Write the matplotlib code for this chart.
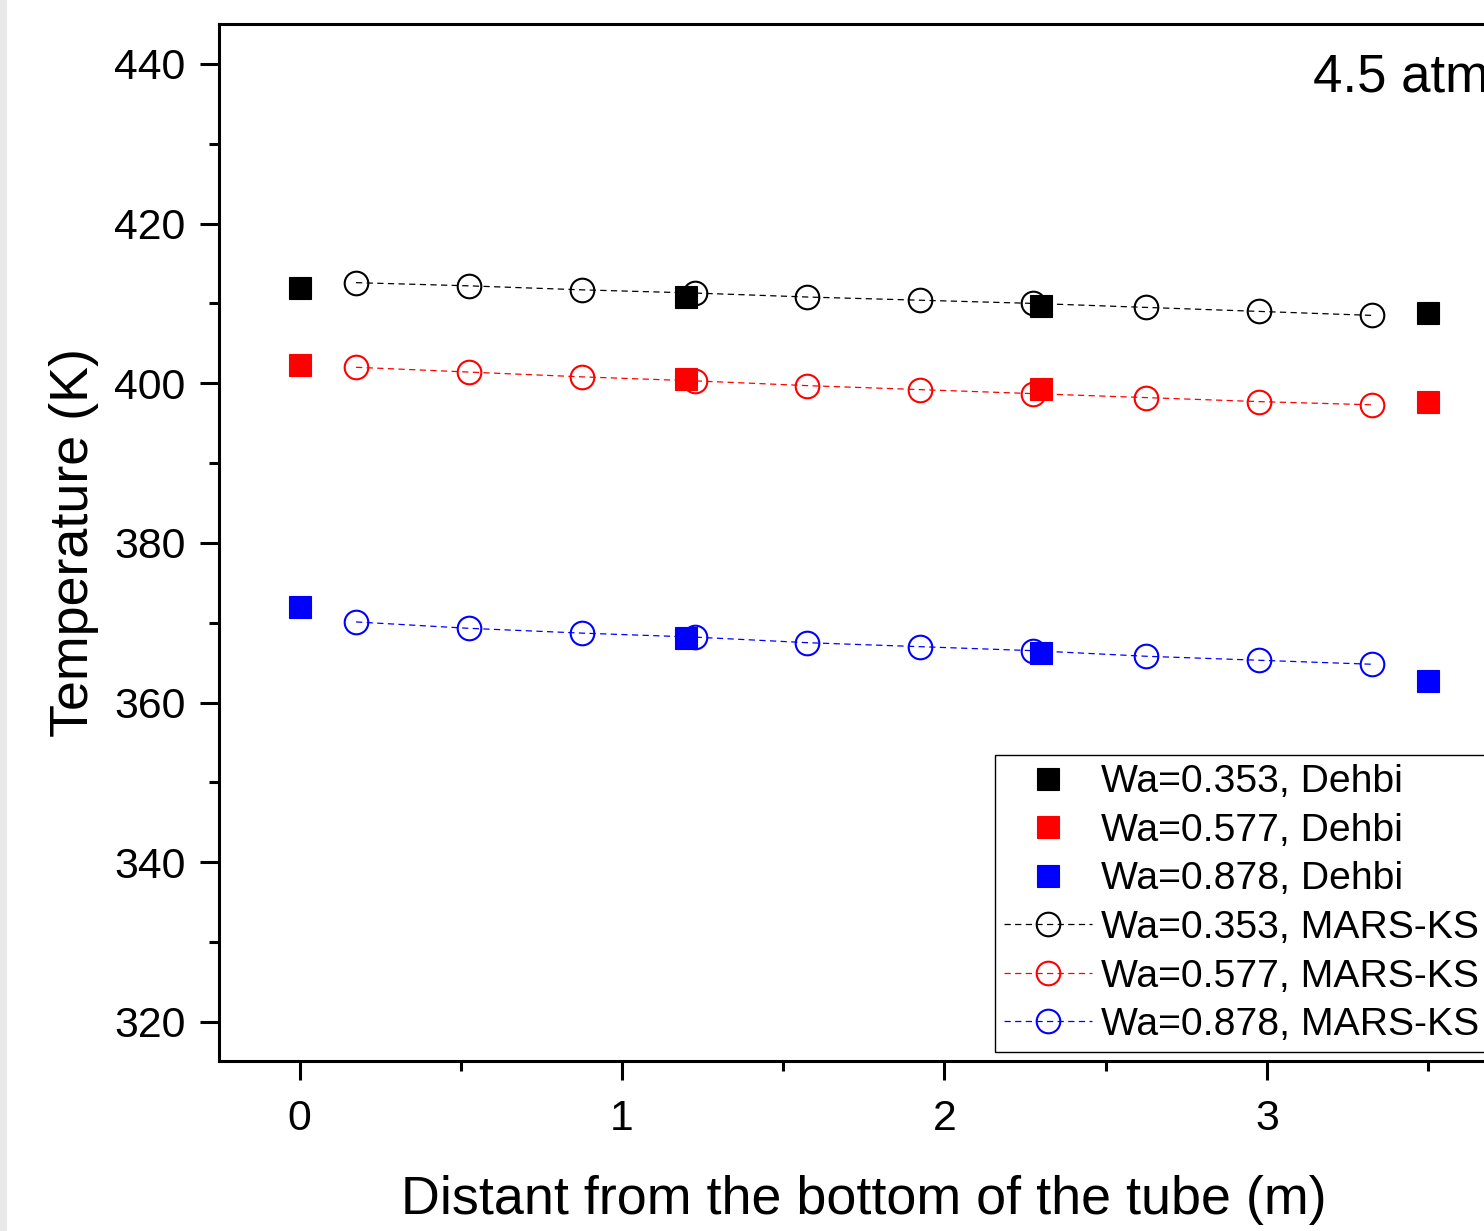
import matplotlib
matplotlib.use("Agg")
import matplotlib.pyplot as plt
from matplotlib.ticker import MultipleLocator
from matplotlib.patches import Rectangle

plt.rcParams['font.family'] = ['Liberation Sans', 'DejaVu Sans']

# Dehbi experimental data
x_dehbi = [0.0, 1.2, 2.3, 3.5]
t_dehbi_353 = [411.9, 410.8, 409.7, 408.8]
t_dehbi_577 = [402.3, 400.5, 399.3, 397.7]
t_dehbi_878 = [372.0, 368.1, 366.2, 362.7]

# MARS-KS results
x_mars = [0.175, 0.525, 0.875, 1.225, 1.575, 1.925, 2.275, 2.625, 2.975, 3.325]
t_mars_353 = [412.6, 412.2, 411.7, 411.3, 410.8, 410.4, 410.0, 409.5, 409.0, 408.5]
t_mars_577 = [402.0, 401.4, 400.8, 400.3, 399.7, 399.2, 398.7, 398.2, 397.7, 397.3]
t_mars_878 = [370.1, 369.3, 368.7, 368.2, 367.5, 367.0, 366.5, 365.8, 365.3, 364.8]

labels_dehbi = ["Wa=0.353, Dehbi", "Wa=0.577, Dehbi", "Wa=0.878, Dehbi"]
labels_mars = ["Wa=0.353, MARS-KS", "Wa=0.577, MARS-KS", "Wa=0.878, MARS-KS"]
colors = ["black", "red", "blue"]

fig = plt.figure(figsize=(14.84, 12.31), dpi=100)
fig.patches.append(Rectangle((0, 0), 7 / 1484, 1, transform=fig.transFigure,
                             facecolor="#e9e9e9", edgecolor="none", zorder=0))
ax = fig.add_axes([219 / 1484, 170 / 1231, 1289.6 / 1484, 1037 / 1231])

for t, lab, c in zip([t_dehbi_353, t_dehbi_577, t_dehbi_878], labels_dehbi, colors):
    ax.plot(x_dehbi, t, linestyle="none", marker="s", markersize=15.5,
            color=c, markeredgewidth=0.8, label=lab, zorder=3)

for t, lab, c in zip([t_mars_353, t_mars_577, t_mars_878], labels_mars, colors):
    ax.plot(x_mars, t, linestyle=(0, (5, 3.5)), linewidth=0.9, marker="o",
            markersize=17, markerfacecolor="none", markeredgewidth=1.5,
            color=c, label=lab, zorder=2)

ax.set_xlim(-0.25, 3.75)
ax.set_ylim(315.1, 445.0)
ax.xaxis.set_major_locator(MultipleLocator(1))
ax.xaxis.set_minor_locator(MultipleLocator(0.5))
ax.yaxis.set_major_locator(MultipleLocator(20))
ax.yaxis.set_minor_locator(MultipleLocator(10))

for s in ax.spines.values():
    s.set_linewidth(2.2)
ax.tick_params(which="major", direction="out", length=14, width=2.2,
               labelsize=30.8, top=False, right=False)
ax.tick_params(axis="y", which="major", pad=10)
ax.tick_params(axis="x", which="major", pad=13)
ax.tick_params(which="minor", direction="out", length=7, width=2.2,
               top=False, right=False)

ax.set_xlabel("Distant from the bottom of the tube (m)", fontsize=38.8)
ax.set_ylabel("Temperature (K)", fontsize=38.8)
ax.xaxis.set_label_coords(0.5, -0.110)
ax.yaxis.set_label_coords(-0.093, 0.5)

ax.text(3.143, 436.5, "4.5 atm", fontsize=38, ha="left", va="baseline")

leg = ax.legend(loc="upper left", bbox_to_anchor=(0.6017, 0.2951),
                borderaxespad=0, fontsize=28.2, numpoints=1, frameon=True,
                fancybox=False, edgecolor="black", framealpha=1,
                handlelength=2.25, handletextpad=0.22, labelspacing=0.32,
                borderpad=0.24)
leg.get_frame().set_linewidth(1.0)

fig.savefig("out.png", dpi=100)
